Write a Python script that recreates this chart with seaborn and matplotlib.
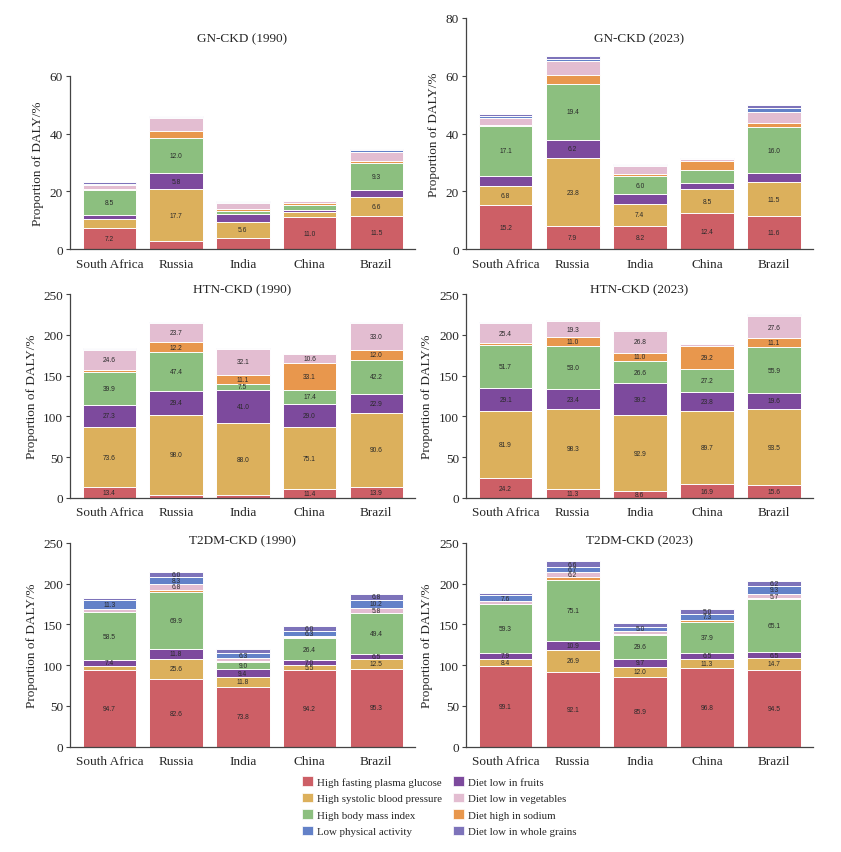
import matplotlib
matplotlib.use("Agg")
import matplotlib.pyplot as plt
import seaborn as sns
import pandas as pd
from matplotlib.patches import Patch

countries = ["South Africa", "Russia", "India", "China", "Brazil"]

# stacking order, bottom to top
risks = ["High fasting plasma glucose", "High systolic blood pressure",
         "Diet low in fruits", "High body mass index", "Diet high in sodium",
         "Diet low in vegetables", "Low physical activity",
         "Diet low in whole grains"]
colors = ["#CD5F66", "#DCB05C", "#7D4A9D", "#8CBF7F", "#E8974D",
          "#E3BDD1", "#6381C8", "#7D73BA"]

# rows follow `risks`, columns follow `countries`
gn_1990 = [[7.2, 3.0, 4.0, 11.0, 11.5],
           [3.2, 17.7, 5.6, 1.8, 6.6],
           [1.5, 5.8, 2.6, 0.8, 2.3],
           [8.5, 12.0, 1.0, 1.6, 9.3],
           [0.3, 2.4, 0.7, 0.8, 0.9],
           [1.5, 4.4, 2.2, 0.6, 2.9],
           [0.5, 0.3, 0.2, 0.1, 0.7],
           [0.4, 0.4, 0.4, 0.1, 0.6]]
gn_2023 = [[15.2, 7.9, 8.2, 12.4, 11.6],
           [6.8, 23.8, 7.4, 8.5, 11.5],
           [3.5, 6.2, 3.6, 2.1, 3.2],
           [17.1, 19.4, 6.0, 4.5, 16.0],
           [0.4, 2.9, 0.8, 3.1, 1.4],
           [2.3, 4.8, 2.7, 0.6, 3.8],
           [0.8, 0.8, 0.4, 0.1, 1.3],
           [0.7, 0.9, 0.4, 0.1, 1.1]]
htn_1990 = [[13.4, 4.1, 3.3, 11.4, 13.9],
            [73.6, 98.0, 88.0, 75.1, 90.6],
            [27.3, 29.4, 41.0, 29.0, 22.9],
            [39.9, 47.4, 7.5, 17.4, 42.2],
            [3.0, 12.2, 11.1, 33.1, 12.0],
            [24.6, 23.7, 32.1, 10.6, 33.0],
            [1.0, 0.5, 0.2, 0.2, 0.8],
            [1.0, 0.4, 0.3, 0.2, 0.7]]
htn_2023 = [[24.2, 11.3, 8.6, 16.9, 15.6],
            [81.9, 98.3, 92.9, 89.7, 93.5],
            [29.1, 23.4, 39.2, 23.8, 19.6],
            [51.7, 53.0, 26.6, 27.2, 55.9],
            [2.6, 11.0, 11.0, 29.2, 11.1],
            [25.4, 19.3, 26.8, 1.9, 27.6],
            [0.6, 1.0, 0.3, 0.2, 1.2],
            [0.6, 0.8, 0.3, 0.2, 0.6]]
t2dm_1990 = [[94.7, 82.6, 73.8, 94.2, 95.3],
             [4.4, 25.6, 11.8, 5.5, 12.5],
             [7.4, 11.8, 9.4, 7.0, 6.5],
             [58.5, 69.9, 9.0, 26.4, 49.4],
             [0.4, 2.8, 0.7, 1.1, 0.8],
             [3.3, 6.8, 4.6, 1.6, 5.8],
             [11.3, 8.3, 6.3, 6.3, 10.2],
             [2.2, 6.0, 4.8, 6.0, 6.8]]
t2dm_2023 = [[99.1, 92.1, 85.9, 96.8, 94.5],
             [8.4, 26.9, 12.0, 11.3, 14.7],
             [7.9, 10.9, 9.7, 6.5, 6.5],
             [59.3, 75.1, 29.6, 37.9, 65.1],
             [0.8, 2.9, 0.7, 2.8, 1.2],
             [2.9, 6.2, 4.3, 0.8, 5.7],
             [7.6, 6.7, 5.0, 7.3, 9.3],
             [3.0, 6.6, 4.6, 5.0, 6.2]]

sns.set_style("ticks")
plt.rcParams["font.family"] = ["Liberation Serif", "DejaVu Serif"]

W, H = 841, 853
fig = plt.figure(figsize=(W / 100, H / 100), dpi=100)


def px_axes(left, right, y0, ytop):
    # pixel box -> figure fraction
    return fig.add_axes([left / W, 1 - y0 / H, (right - left) / W, (y0 - ytop) / H])


def stacked(ax, values, ymax, step, title, title_y):
    df = pd.DataFrame(values, index=risks, columns=countries)
    cum = df.cumsum()
    # draw cumulative totals from the top layer down so lower layers sit in front
    for k in range(len(risks) - 1, -1, -1):
        sns.barplot(x=countries, y=cum.iloc[k].values, order=countries,
                    color=colors[k], saturation=1, width=0.8, errorbar=None,
                    edgecolor="white", linewidth=0.7, ax=ax)
    for k in range(len(risks)):
        for j, c in enumerate(countries):
            v = df.loc[risks[k], c]
            if v >= 5:
                ax.text(j, cum.loc[risks[k], c] - v / 2, f"{v:.1f}",
                        ha="center", va="center", fontsize=4.8,
                        family="Liberation Sans", color="#2a2a2a")
    ax.set_xlim(-0.59, 4.58)
    ax.set_ylim(0, ymax)
    ax.set_yticks(range(0, ymax + 1, step))
    ax.set_xlabel("")
    ax.set_ylabel("Proportion of DALY/%", fontsize=9.5, labelpad=4)
    ax.tick_params(axis="y", length=3, width=0.8, labelsize=9.5, pad=2,
                   color="#444444")
    ax.tick_params(axis="x", length=0, labelsize=9.5, pad=6)
    for s in ["top", "right"]:
        ax.spines[s].set_visible(False)
    for s in ["left", "bottom"]:
        ax.spines[s].set_color("#444444")
        ax.spines[s].set_linewidth(0.9)
    box = ax.get_position()
    fig.text(box.x0 + box.width / 2, 1 - title_y / H, title, ha="center",
             va="center", fontsize=9.5)


ax = px_axes(70, 415, 250.3, 76.7)
stacked(ax, gn_1990, 60, 20, "GN-CKD (1990)", 39)
ax = px_axes(466, 813, 250.3, 18.9)
stacked(ax, gn_2023, 80, 20, "GN-CKD (2023)", 39)
ax = px_axes(70, 415, 499, 295)
stacked(ax, htn_1990, 250, 50, "HTN-CKD (1990)", 290)
ax = px_axes(466, 813, 499, 295)
stacked(ax, htn_2023, 250, 50, "HTN-CKD (2023)", 290)
ax = px_axes(70, 415, 747.7, 544)
stacked(ax, t2dm_1990, 250, 50, "T2DM-CKD (1990)", 541)
ax = px_axes(466, 813, 747.7, 544)
stacked(ax, t2dm_2023, 250, 50, "T2DM-CKD (2023)", 541)

legend_order = [0, 1, 3, 6, 2, 5, 4, 7]
handles = [Patch(facecolor=colors[i], edgecolor="white", linewidth=0.5)
           for i in legend_order]
labels = [risks[i] for i in legend_order]
fig.legend(handles, labels, ncol=2, frameon=False, loc="upper left",
           bbox_to_anchor=(302 / W, 1 - 777 / H), borderpad=0,
           borderaxespad=0, fontsize=7.8, handlelength=1.0, handleheight=1.0,
           handletextpad=0.4, labelspacing=0.55, columnspacing=1.0)

fig.savefig("out.png", dpi=100)
